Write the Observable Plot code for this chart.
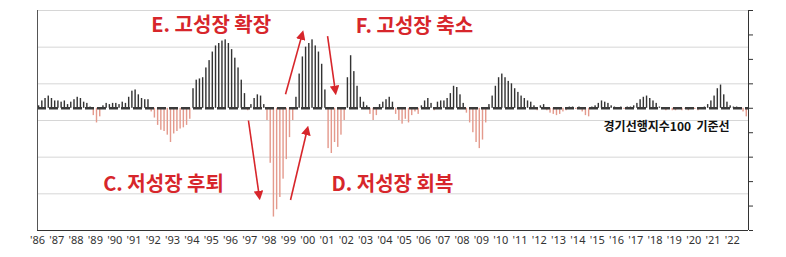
<!DOCTYPE html>
<html><head><meta charset="utf-8">
<script src="https://cdn.jsdelivr.net/npm/d3@7"></script>
<script src="https://cdn.jsdelivr.net/npm/@observablehq/plot@0.6"></script>
<style>
body{margin:0;background:#fff;overflow:hidden}
#chart{width:786px;height:257px}
</style>
</head><body><div id="chart"></div>
<script>
// Leading index (cyclical component) minus 100, bimonthly, from Jan 1986
const startYear = 1986;
const perYear = 6;
const cycle = [
  0.2, 0.6, 0.8, 1.0, 0.8, 0.6,      // 1986
  0.6, 0.5, 0.6, 0.3, 0.5, 0.7,      // 1987
  0.9, 0.8, 0.5, 0.4, 0.1, -0.6,     // 1988
  -1.2, -0.7, 0.2, 0.4, 0.3, 0.4,    // 1989
  0.4, 0.3, 0.5, 0.4, 0.9, 1.4,      // 1990
  1.5, 1.1, 0.8, 0.7, 0.7, -0.3,     // 1991
  -0.8, -1.4, -1.8, -1.9, -2.2, -2.8,// 1992
  -2.1, -1.9, -1.7, -1.6, -1.4, -0.9,// 1993
  1.6, 2.3, 2.4, 2.5, 3.3, 3.9,      // 1994
  4.6, 5.1, 5.3, 5.5, 5.6, 5.3,      // 1995
  4.8, 4.1, 3.3, 2.3, 1.2, -0.2,     // 1996
  0.3, 0.8, 1.1, 1.0, 0.3, -1.0,     // 1997
  -4.5, -8.9, -8.3, -7.3, -5.8, -4.2,// 1998
  -2.4, -1.0, 0.9, 2.8, 4.2, 5.0,    // 1999
  5.3, 5.6, 5.1, 4.6, 3.6, 1.5,      // 2000
  -3.3, -3.7, -2.8, -3.2, -2.2, -1.0,// 2001
  2.5, 4.3, 3.0, 1.8, 0.9, 0.5,      // 2002
  0.2, -0.5, -1.0, -0.6, 0.3, 0.5,   // 2003
  0.7, 0.9, 0.5, -0.5, -1.0, -1.3,   // 2004
  -0.9, -1.2, -0.6, -0.3, -0.5, 0.2, // 2005
  0.6, 0.8, 0.4, -0.2, 0.5, 0.6,     // 2006
  0.6, 0.8, 1.2, 1.8, 1.7, 1.1,      // 2007
  0.4, -0.4, -1.2, -2.0, -2.8, -3.3, // 2008
  -2.6, -1.2, 0.3, 1.0, 1.8, 2.5,    // 2009
  2.8, 2.5, 2.2, 2.0, 1.6, 1.3,      // 2010
  1.0, 0.8, 0.6, 0.5, 0.2, -0.2,     // 2011
  0.2, 0.3, -0.2, -0.4, -0.5, -0.6,  // 2012
  -0.5, -0.3, -0.2, 0.1, 0.1, -0.1,  // 2013
  0.1, -0.3, -0.6, -0.7, 0.1, 0.2,   // 2014
  0.4, 0.6, 0.5, 0.4, 0.2, 0.1,      // 2015
  -0.1, 0.1, -0.1, 0.1, 0.1, 0.2,    // 2016
  0.4, 0.7, 0.9, 1.0, 0.8, 0.6,      // 2017
  0.4, 0.1, -0.1, -0.2, -0.1, -0.2,  // 2018
  -0.2, -0.1, -0.2, -0.1, -0.2, -0.1,// 2019
  -0.1, -0.2, 0.0, 0.1, 0.3, 0.6,    // 2020
  1.0, 1.6, 1.9, 1.1, 0.5, 0.2,      // 2021
  0.1, 0.1, 0.0, -0.3, -0.7          // 2022
];

const yearTicks = [1986,1987,1988,1989,1990,1991,1992,1993,1994,1995,1996,1997,1998,1999,2000,2001,2002,2003,2004,2005,2006,2007,2008,2009,2010,2011,2012,2013,2014,2015,2016,2017,2018,2019,2020,2021,2022];
const tickLabels = ["'86","'87","'88","'89","'90","'91","'92","'93","'94","'95","'96","'97","'98","'99","'00","'01","'02","'03","'04","'05","'06","'07","'08","'09","'10","'11","'12","'13","'14","'15","'16","'17","'18","'19","'20","'21","'22"];
const rightTicks = [-10,-8,-6,-4,-2,0,2,4,6,8];
const gridLines = [8,5,2,-1,-4,-7];
const xEnd = 2022.84;

const noteText = ["E. 고성장 확장", "F. 고성장 축소", "C. 저성장 후퇴", "D. 저성장 회복"];
const noteX = [1995.0, 2005.53, 1992.53, 2004.39];
const noteY = [6.8, 6.65, -6.23, -6.23];

const arrowX1 = [1998.85, 2001.03, 1996.93, 1999.11];
const arrowY1 = [1.15, 5.9, -1.0, -7.5];
const arrowX2 = [1999.73, 2001.44, 1997.5, 1999.99];
const arrowY2 = [6.15, 1.3, -7.3, -1.65];

const baseLabel = "경기선행지수100  기준선";

const posColor = "#333333";
const negColor = "#e49a8d";
const red = "#d7262b";

const bars = cycle.map((v, i) => ({x1: startYear + i / perYear, x2: startYear + (i + 1) / perYear, v}));
const notes = noteText.map((t, i) => ({t, x: noteX[i], y: noteY[i]}));
const arrows = arrowX1.map((x1, i) => ({x1, y1: arrowY1[i], x2: arrowX2[i], y2: arrowY2[i]}));

const chart = Plot.plot({
  width: 786, height: 257,
  marginTop: 10, marginBottom: 27, marginLeft: 37, marginRight: 38,
  style: {fontFamily: "'Noto Sans', sans-serif", fontSize: "11px", color: "#333", background: "#fff", overflow: "visible"},
  x: {domain: [startYear, xEnd], ticks: yearTicks, tickFormat: d => tickLabels[yearTicks.indexOf(d)], tickSize: 0, tickPadding: 6, label: null},
  y: {domain: [-10, 8], axis: "right", ticks: rightTicks, tickFormat: () => "", tickSize: 4, label: null},
  marks: [
    Plot.ruleY(gridLines, {stroke: "#d6d6d6", strokeWidth: 1}),
    Plot.rectY(bars, {x1: "x1", x2: "x2", y: "v", fill: d => d.v >= 0 ? posColor : negColor, insetLeft: 0.9, insetRight: 0.9}),
    Plot.ruleY([0], {stroke: "#3a3a3a", strokeWidth: 2.5, strokeDasharray: "9,3"}),
    Plot.ruleX([startYear], {stroke: "#555"}),
    Plot.ruleX([xEnd], {stroke: "#333"}),
    Plot.ruleY([-10], {stroke: "#333"}),
    Plot.link(arrows, {x1: "x1", y1: "y1", x2: "x2", y2: "y2", stroke: red, strokeWidth: 1.6}),
    Plot.text(notes, {x: "x", y: "y", text: "t", fill: red, fontSize: 20, fontWeight: "bold", fontFamily: "'Noto Sans CJK KR', sans-serif"}),
    Plot.text([baseLabel], {x: 2015.33, y: -1.56, text: d => d, textAnchor: "start", fill: "#111", fontSize: 12, fontWeight: "bold", fontFamily: "'Noto Sans CJK KR', sans-serif"})
  ]
});
document.getElementById("chart").appendChild(chart);

// filled arrowheads for the annotation arrows
const svg = d3.select(chart);
const defs = svg.insert("defs", ":first-child");
defs.append("marker").attr("id", "ahead").attr("viewBox", "0 0 10 10")
  .attr("refX", 7).attr("refY", 5).attr("markerWidth", 6).attr("markerHeight", 6)
  .attr("markerUnits", "strokeWidth").attr("orient", "auto")
  .append("path").attr("d", "M0,0L10,5L0,10z").attr("fill", red);
svg.selectAll("g[aria-label='link'] path").attr("marker-end", "url(#ahead)");
</script>
</body></html>
